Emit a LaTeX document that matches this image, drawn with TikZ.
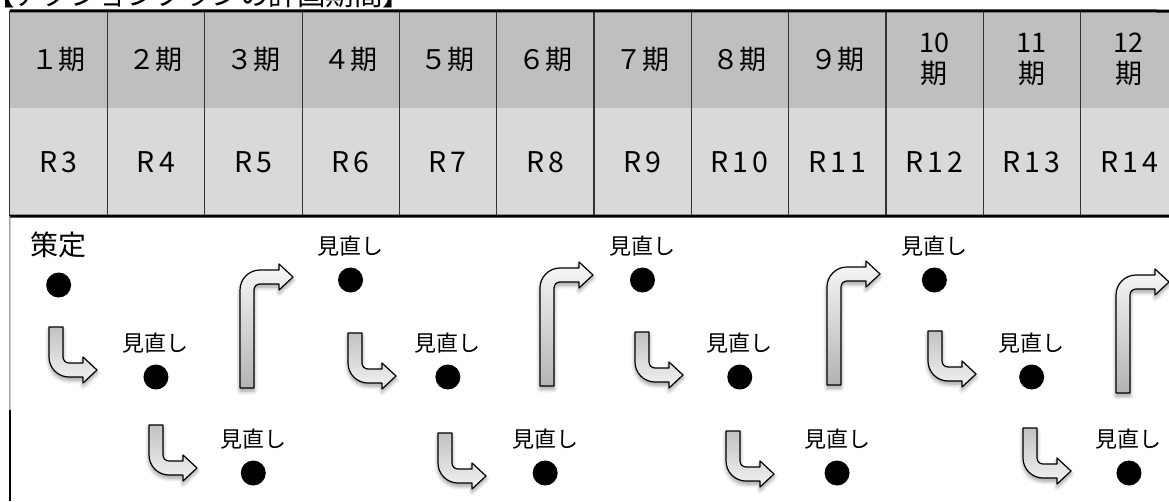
\documentclass[tikz,border=0pt]{standalone}
\usepackage{fontspec}
\setmainfont{Noto Sans CJK JP}
\usetikzlibrary{shadows.blur}
\definecolor{hdrgray}{HTML}{BFBFBF}
\definecolor{rowgray}{HTML}{D9D9D9}
\tikzset{
  hcell/.style={fill=hdrgray, minimum width=97.3pt, minimum height=97pt, inner sep=0pt, align=center, font=\fontsize{27}{31}\selectfont},
  rcell/.style={fill=rowgray, minimum width=97.3pt, minimum height=108pt, inner sep=0pt, font=\fontsize{28.5}{31}\selectfont\addfontfeatures{LetterSpace=14}},
  colline/.style={draw=black!80, line width=1.2pt},
  boldline/.style={draw=black, line width=3pt},
  dot/.style={circle, fill=black, minimum size=25pt, inner sep=0pt},
  lbl/.style={font=\fontsize{22}{22}\selectfont, inner sep=0pt},
  arrowbody/.style={draw=black, line width=1.2pt, line join=round,
    blur shadow={shadow xshift=0pt, shadow yshift=-3pt, shadow blur radius=4pt, shadow blur steps=6, shadow opacity=40}},
  hook/.pic={
    \path[arrowbody, top color=black!24, bottom color=black!5]
      (0,0) -- (14,0) -- (14,30) arc[start angle=180, end angle=90, radius=6]
      -- (34,36) -- (34,30) -- (48,43) -- (34,56) -- (34,50) -- (20,50)
      arc[start angle=90, end angle=180, radius=20] -- cycle;
  },
  bigarr/.pic={
    \path[arrowbody, top color=black!3, bottom color=black!30]
      (0,0) -- (0,-98) arc[start angle=180, end angle=270, radius=20]
      -- (39,-118) -- (39,-124) -- (53,-111) -- (39,-98) -- (39,-104) -- (20,-104)
      arc[start angle=270, end angle=180, radius=6] -- (14,0) -- cycle;
  }
}
\begin{document}
\begin{tikzpicture}[x=1pt,y=-1pt]
\useasboundingbox (0,0) rectangle (1169,501);
% title (mostly cut off at top)
\node[anchor=base west, inner sep=0pt, font=\fontsize{28.5}{28.5}\selectfont] (title) at (-14,5) {【アクションプランの計画期間】};
% table cells
\foreach \i/\t in {1/１期,2/２期,3/３期,4/４期,5/５期,6/６期,7/７期,8/８期,9/９期,10/{10\\期},11/{11\\期},12/{12\\期}}
  \node[hcell] (h\i) at ({10+97.3*(\i-0.5)},59.5) {\t};
\foreach \i/\t in {1/R3,2/R4,3/R5,4/R6,5/R7,6/R8,7/R9,8/R10,9/R11,10/R12,11/R13,12/R14}
  \node[rcell] (r\i) at ({10+97.3*(\i-0.5)},162) {\t};
\foreach \k in {1,...,11}
  \draw[colline] (h\k.north east) -- (r\k.south east);
\draw[colline] (h1.north west) -- (r1.south west);
\coordinate (tr) at (1169,11);
\coordinate (br) at (1169,216);
\coordinate (lm) at (10,410);
\coordinate (lb) at (10,501);
\draw[boldline] (h1.north west) -- (tr);
\draw[boldline] (r1.south west) -- (br);
\draw[draw=black!55, line width=1pt] (r1.south west) -- (lm);
\draw[draw=black, line width=2.6pt] (lm) -- (lb);
% dots
\foreach \i/\y in {1/285,4/280,7/280,10/280,2/377,5/377,8/377,11/377,3/473,6/473,9/473,12/473}
  \node[dot] (d\i) at ({10+97.3*(\i-0.5)},\y) {};
% labels
\node[inner sep=0pt, font=\fontsize{28}{28}\selectfont] (sakutei) at ([yshift=40pt]d1.center) {策定};
\foreach \i in {4,7,10,2,5,8,11,3,6,9,12}
  \node[lbl] (l\i) at ([yshift=34pt]d\i.center) {見直し};
% hook arrows
\pic at (49,327) {hook};
\pic at (348,333) {hook};
\pic at (635,332) {hook};
\pic at (928,331) {hook};
\pic at (149,425) {hook};
\pic at (438,433) {hook};
\pic at (726,431) {hook};
\pic at (1023,428) {hook};
% big arrows
\pic at (240,388) {bigarr};
\pic at (540,386) {bigarr};
\pic at (827,385) {bigarr};
\pic at (1116,393) {bigarr};
\end{tikzpicture}
\end{document}
